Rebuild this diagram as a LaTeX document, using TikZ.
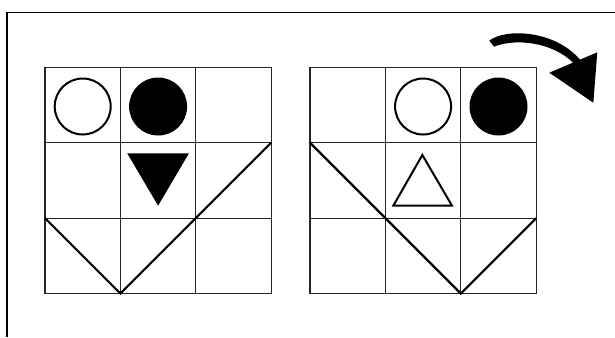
\documentclass[tikz,border=0pt]{standalone}
\usetikzlibrary{arrows.meta}

\tikzset{
  gridline/.style={line width=1.1pt,draw=black!85},
  diagline/.style={line width=2.2pt,line join=miter},
  ring/.style={line width=2pt},
  frameline/.style={line width=1.3pt},
}

\begin{document}
\begin{tikzpicture}[x=1pt,y=-1pt]
\useasboundingbox (0,0) rectangle (615,337);
% ================= frame =================
\draw[frameline] (7,337) -- (7,12.5) -- (615,12.5);
% ================= left panel =================
\begin{scope}[xshift=45pt,yshift=-67.3pt,x=75.4pt,y=-75.4pt]
\foreach \i in {0,1,2,3} {
  \draw[gridline] (\i,0) -- (\i,3);
  \draw[gridline] (0,\i) -- (3,\i);
}
\draw[ring] (0.5,0.52) circle[radius=28pt];
\fill (1.5,0.52) circle[radius=29pt];
% downward triangle
\fill (1.09,1.14) -- (1.91,1.14) -- (1.50,1.835) -- cycle;
% V shaped line
\draw[diagline] (0,2) -- (1,3) -- (3,1);
\end{scope}
% ================= right panel =================
\begin{scope}[xshift=310pt,yshift=-67.3pt,x=75.4pt,y=-75.4pt]
\foreach \i in {0,1,2,3} {
  \draw[gridline] (\i,0) -- (\i,3);
  \draw[gridline] (0,\i) -- (3,\i);
}
\draw[ring] (1.5,0.52) circle[radius=28pt];
\fill (2.5,0.52) circle[radius=29pt];
% upward triangle, outlined
\draw[ring,line join=miter] (1.105,1.835) -- (1.49,1.163) -- (1.883,1.835) -- cycle;
% V shaped line
\draw[diagline] (0,1) -- (2,3) -- (3,2);
\end{scope}
% ================= rotation arrow =================
\fill (489.3,40.7) .. controls (505,28) and (555,30) .. (580,59.7)
  -- (597.3,52.3) -- (593.3,102.7) -- (549.3,72.7) -- (573,62.6)
  .. controls (552,42) and (515,38) .. (494,46.7) -- cycle;
\end{tikzpicture}
\end{document}
